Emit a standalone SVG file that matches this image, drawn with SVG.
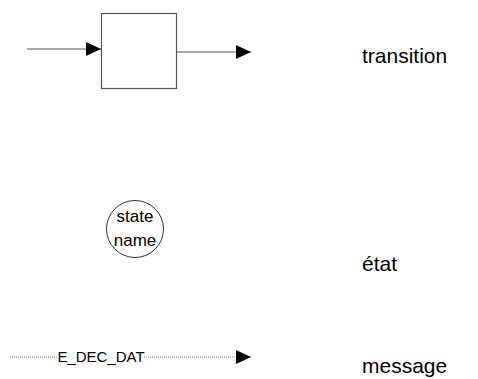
<svg xmlns="http://www.w3.org/2000/svg" width="478" height="379" viewBox="0 0 478 379">
<defs>
<marker id="arr" markerWidth="15" markerHeight="14" refX="15" refY="7" orient="auto" markerUnits="userSpaceOnUse">
<path d="M0,0 L15,7 L0,14 Z" fill="#000"/>
</marker>
</defs>
<style>
.t{font-family:"Liberation Sans",Arial,sans-serif;fill:#000}
.ln{stroke:#555;stroke-width:1.2;fill:none}
.dot{stroke:#777;stroke-width:1;stroke-dasharray:1,1;fill:none}
</style>
<rect width="478" height="379" fill="#fff"/>
<g id="connectors">
<line class="ln" x1="27" y1="49" x2="101" y2="49" marker-end="url(#arr)"/>
<line class="ln" x1="177" y1="52" x2="251" y2="52" marker-end="url(#arr)"/>
<line class="dot" x1="10" y1="357" x2="58" y2="357"/>
<line class="dot" x1="144" y1="357" x2="251" y2="357" marker-end="url(#arr)"/>
</g>
<g id="transition-box">
<rect x="101.5" y="13.5" width="75" height="75" fill="#fff" stroke="#555" stroke-width="1.2"/>
</g>
<g id="state-node">
<circle cx="135" cy="229" r="28.5" fill="#fff" stroke="#333" stroke-width="1"/>
<text class="t" x="135" y="222" font-size="17" text-anchor="middle">state</text>
<text class="t" x="135" y="246" font-size="17" text-anchor="middle">name</text>
</g>
<g id="message-label">
<text class="t" x="101" y="362" font-size="15" text-anchor="middle">E_DEC_DAT</text>
</g>
<g id="legend">
<text class="t" x="362" y="63" font-size="21">transition</text>
<text class="t" x="362" y="271" font-size="21">état</text>
<text class="t" x="362" y="373" font-size="21">message</text>
</g>
</svg>
